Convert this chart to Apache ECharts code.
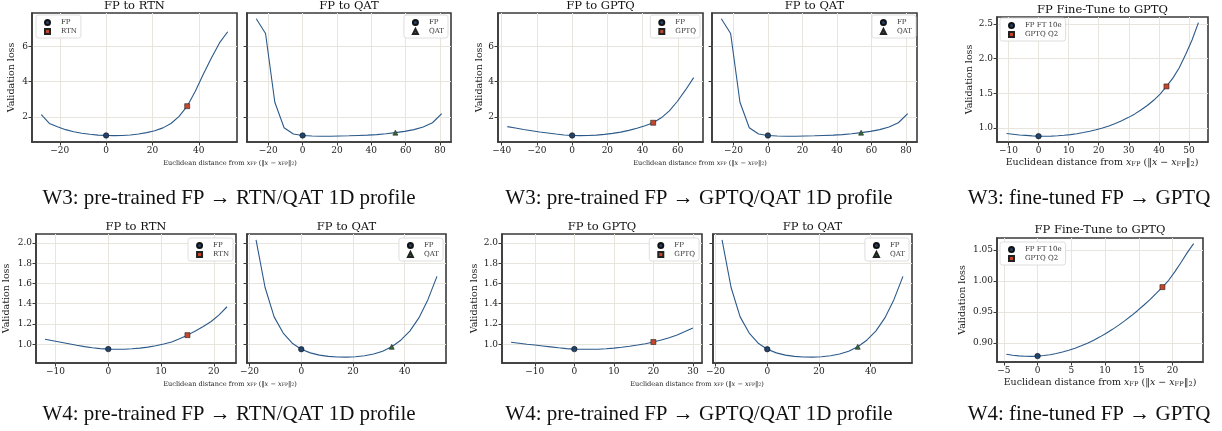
<!DOCTYPE html>
<html>
<head>
<meta charset="utf-8">
<script src="https://cdn.jsdelivr.net/npm/echarts@6/dist/echarts.min.js"></script>
<style>
  html, body { margin: 0; padding: 0; background: #fff; }
  #chart { width: 1222px; height: 431px; }
</style>
</head>
<body>
<div id="chart"></div>
<script>
// ---- data ----
// W3, pre-trained FP -> RTN
const w3RtnDist = [-28, -24.5, -21, -17.5, -14, -10.5, -7, -3.5, 0, 3.5, 7, 10.5, 14, 17.5, 21, 24.5, 28, 31.5, 35, 38.5, 42, 45.5, 49, 52.5];
const w3RtnLoss = [2.12, 1.62, 1.43, 1.27, 1.15, 1.07, 1.01, 0.96, 0.94, 0.93, 0.94, 0.97, 1.02, 1.10, 1.21, 1.37, 1.62, 2.02, 2.60, 3.45, 4.42, 5.35, 6.20, 6.82];
const w3RtnFp = [0, 0.94];
const w3RtnQ = [35, 2.60];
// W3, pre-trained FP -> QAT
const w3QatDist = [-27, -21.6, -16.2, -10.8, -5.4, 0, 5.4, 10.8, 16.2, 21.6, 27, 32.4, 37.8, 43.2, 48.6, 54, 59.4, 64.8, 70.2, 75.6, 81];
const w3QatLoss = [7.55, 6.72, 2.82, 1.38, 1.02, 0.94, 0.91, 0.90, 0.90, 0.91, 0.92, 0.94, 0.96, 0.99, 1.04, 1.10, 1.17, 1.27, 1.42, 1.66, 2.18];
const w3QatFp = [0, 0.94];
const w3QatQ = [54, 1.10];
// W3, pre-trained FP -> GPTQ
const w3GptqDist = [-36.8, -32.2, -27.6, -23, -18.4, -13.8, -9.2, -4.6, 0, 4.6, 9.2, 13.8, 18.4, 23, 27.6, 32.2, 36.8, 41.4, 46, 50.6, 55.2, 59.8, 64.4, 69];
const w3GptqLoss = [1.44, 1.36, 1.28, 1.21, 1.14, 1.08, 1.02, 0.97, 0.94, 0.93, 0.94, 0.96, 1.00, 1.06, 1.13, 1.23, 1.35, 1.49, 1.66, 1.94, 2.33, 2.88, 3.52, 4.22];
const w3GptqFp = [0, 0.94];
const w3GptqQ = [46, 1.66];
// W3, fine-tuned FP -> GPTQ
const w3FtDist = [-10.625, -8.5, -6.375, -4.25, -2.125, 0, 2.125, 4.25, 6.375, 8.5, 10.625, 12.75, 14.875, 17, 19.125, 21.25, 23.375, 25.5, 27.625, 29.75, 31.875, 34, 36.125, 38.25, 40.375, 42.5, 44.625, 46.75, 48.875, 51, 53.125];
const w3FtLoss = [0.92, 0.91, 0.90, 0.893, 0.886, 0.882, 0.881, 0.883, 0.888, 0.895, 0.905, 0.918, 0.934, 0.953, 0.975, 1.00, 1.03, 1.065, 1.105, 1.15, 1.20, 1.26, 1.325, 1.40, 1.49, 1.60, 1.72, 1.87, 2.06, 2.27, 2.52];
const w3FtFp = [0, 0.882];
const w3FtQ = [42.5, 1.60];
// W4, pre-trained FP -> RTN
const w4RtnDist = [-12, -10.5, -9, -7.5, -6, -4.5, -3, -1.5, 0, 1.5, 3, 4.5, 6, 7.5, 9, 10.5, 12, 13.5, 15, 16.5, 18, 19.5, 21, 22.5];
const w4RtnLoss = [1.05, 1.035, 1.02, 1.005, 0.99, 0.977, 0.966, 0.957, 0.952, 0.950, 0.951, 0.955, 0.962, 0.972, 0.985, 1.002, 1.023, 1.054, 1.09, 1.13, 1.175, 1.225, 1.29, 1.37];
const w4RtnFp = [0, 0.952];
const w4RtnQ = [15, 1.09];
// W4, pre-trained FP -> QAT
const w4QatDist = [-17.5, -14, -10.5, -7, -3.5, 0, 3.5, 7, 10.5, 14, 17.5, 21, 24.5, 28, 31.5, 35, 38.5, 42, 45.5, 49, 52.5];
const w4QatLoss = [2.03, 1.56, 1.27, 1.11, 1.01, 0.951, 0.915, 0.893, 0.880, 0.874, 0.873, 0.877, 0.886, 0.903, 0.930, 0.975, 1.04, 1.13, 1.26, 1.44, 1.67];
const w4QatFp = [0, 0.951];
const w4QatQ = [35, 0.975];
// W4, pre-trained FP -> GPTQ
const w4GptqDist = [-16, -14, -12, -10, -8, -6, -4, -2, 0, 2, 4, 6, 8, 10, 12, 14, 16, 18, 20, 22, 24, 26, 28, 30];
const w4GptqLoss = [1.02, 1.01, 1.0, 0.992, 0.983, 0.974, 0.965, 0.957, 0.952, 0.950, 0.950, 0.951, 0.955, 0.962, 0.970, 0.980, 0.992, 1.005, 1.022, 1.042, 1.065, 1.092, 1.125, 1.16];
const w4GptqFp = [0, 0.952];
const w4GptqQ = [20, 1.022];
// W4, fine-tuned FP -> GPTQ
const w4FtDist = [-4.625, -3.7, -2.775, -1.85, -0.925, 0, 0.925, 1.85, 2.775, 3.7, 4.625, 5.55, 6.475, 7.4, 8.325, 9.25, 10.175, 11.1, 12.025, 12.95, 13.875, 14.8, 15.725, 16.65, 17.575, 18.5, 19.425, 20.35, 21.275, 22.2, 23.125];
const w4FtLoss = [0.8819, 0.8803, 0.8792, 0.8786, 0.8785, 0.8789, 0.8798, 0.8812, 0.8830, 0.8854, 0.8882, 0.8916, 0.8954, 0.8997, 0.9046, 0.9099, 0.9157, 0.9220, 0.9288, 0.9360, 0.9438, 0.9520, 0.9608, 0.9700, 0.9798, 0.9900, 1.0010, 1.0150, 1.0300, 1.0460, 1.0600];
const w4FtFp = [0, 0.8789];
const w4FtQ = [18.5, 0.990];

// tick labels
const w3RtnTicks = [-20, 0, 20, 40];
const w3QatTicks = [-20, 0, 20, 40, 60, 80];
const w3GptqTicks = [-40, -20, 0, 20, 40, 60];
const w3FtTicks = [-10, 0, 10, 20, 30, 40, 50];
const w4RtnTicks = [-10, 0, 10, 20];
const w4QatTicks = [-20, 0, 20, 40];
const w4GptqTicks = [-10, 0, 10, 20, 30];
const w4FtTicks = [-5, 0, 5, 10, 15, 20];
const w3LossTicks = [2, 4, 6];
const w3FtLossTicks = [1.0, 1.5, 2.0, 2.5];
const w4LossTicks = [1.0, 1.2, 1.4, 1.6, 1.8, 2.0];
const w4FtLossTicks = [0.90, 0.95, 1.00, 1.05];

// ---- styling ----
const SERIF = 'DejaVu Serif';
const lineColor = '#2b5a8a';
const fpColor = '#22446c';
const sqColor = '#c4472c';
const triColor = '#2f6e33';
const frameColor = '#3a3a3a';
const gridColor = '#e8e4de';
const textColor = '#222';

const fmt = (dec) => (v) => (v < 0 ? '\u2212' : '') + Math.abs(v).toFixed(dec);

const panels = [
  { box: [32, 13, 205, 129], xr: [-32.0, 56.5], yr: [0.57, 7.88], xt: w3RtnTicks, yt: w3LossTicks, yDec: 0, yName: 15,
    dist: w3RtnDist, loss: w3RtnLoss, fp: w3RtnFp, q: w3RtnQ, names: ['FP', 'RTN'], qSym: 'rect', qColor: sqColor,
    title: 'FP to RTN', titleY: 6, legend: { left: 36, top: 15 } },
  { box: [247, 13, 204, 129], xr: [-32.4, 86.4], yr: [0.57, 7.88], xt: w3QatTicks, yt: w3LossTicks, yDec: 0, yName: 0,
    dist: w3QatDist, loss: w3QatLoss, fp: w3QatFp, q: w3QatQ, names: ['FP', 'QAT'], qSym: 'triangle', qColor: triColor,
    title: 'FP to QAT', titleY: 6, legend: { right: 774, top: 15 } },
  { box: [498, 13, 205, 129], xr: [-42.1, 74.3], yr: [0.57, 7.88], xt: w3GptqTicks, yt: w3LossTicks, yDec: 0, yName: 13,
    dist: w3GptqDist, loss: w3GptqLoss, fp: w3GptqFp, q: w3GptqQ, names: ['FP', 'GPTQ'], qSym: 'rect', qColor: sqColor,
    title: 'FP to GPTQ', titleY: 6, legend: { right: 522, top: 15 } },
  { box: [712, 13, 205, 129], xr: [-32.4, 86.4], yr: [0.57, 7.88], xt: w3QatTicks, yt: w3LossTicks, yDec: 0, yName: 0,
    dist: w3QatDist, loss: w3QatLoss, fp: w3QatFp, q: w3QatQ, names: ['FP', 'QAT'], qSym: 'triangle', qColor: triColor,
    title: 'FP to QAT', titleY: 6, legend: { right: 306, top: 15 } },
  { box: [997, 17, 211, 125], xr: [-13.8, 56.3], yr: [0.798, 2.602], xt: w3FtTicks, yt: w3FtLossTicks, yDec: 1, yName: 20,
    dist: w3FtDist, loss: w3FtLoss, fp: w3FtFp, q: w3FtQ, names: ['FP FT 10e', 'GPTQ Q2'], qSym: 'rect', qColor: sqColor,
    title: 'FP Fine-Tune to GPTQ', titleY: 10, legend: { left: 1000, top: 18 } },
  { box: [36, 234, 200, 129], xr: [-13.7, 24.2], yr: [0.815, 2.088], xt: w4RtnTicks, yt: w4LossTicks, yDec: 1, yName: 24,
    dist: w4RtnDist, loss: w4RtnLoss, fp: w4RtnFp, q: w4RtnQ, names: ['FP', 'RTN'], qSym: 'rect', qColor: sqColor,
    title: 'FP to RTN', titleY: 227, legend: { right: 989, top: 238 } },
  { box: [247, 234, 199, 129], xr: [-21, 56], yr: [0.815, 2.088], xt: w4QatTicks, yt: w4LossTicks, yDec: 1, yName: 0,
    dist: w4QatDist, loss: w4QatLoss, fp: w4QatFp, q: w4QatQ, names: ['FP', 'QAT'], qSym: 'triangle', qColor: triColor,
    title: 'FP to QAT', titleY: 227, legend: { right: 779, top: 238 } },
  { box: [502, 234, 200, 129], xr: [-18.3, 32.3], yr: [0.815, 2.088], xt: w4GptqTicks, yt: w4LossTicks, yDec: 1, yName: 22,
    dist: w4GptqDist, loss: w4GptqLoss, fp: w4GptqFp, q: w4GptqQ, names: ['FP', 'GPTQ'], qSym: 'rect', qColor: sqColor,
    title: 'FP to GPTQ', titleY: 227, legend: { right: 523, top: 238 } },
  { box: [713, 234, 199, 129], xr: [-21, 56], yr: [0.815, 2.088], xt: w4QatTicks, yt: w4LossTicks, yDec: 1, yName: 0,
    dist: w4QatDist, loss: w4QatLoss, fp: w4QatFp, q: w4QatQ, names: ['FP', 'QAT'], qSym: 'triangle', qColor: triColor,
    title: 'FP to QAT', titleY: 227, legend: { right: 313, top: 238 } },
  { box: [997, 238, 206, 124], xr: [-6.01, 24.51], yr: [0.8694, 1.0691], xt: w4FtTicks, yt: w4FtLossTicks, yDec: 2, yName: 29,
    dist: w4FtDist, loss: w4FtLoss, fp: w4FtFp, q: w4FtQ, names: ['FP FT 10e', 'GPTQ Q2'], qSym: 'rect', qColor: sqColor,
    title: 'FP Fine-Tune to GPTQ', titleY: 230, legend: { left: 1000, top: 242 } }
];

const grid = [], xAxis = [], yAxis = [], series = [], legend = [], graphic = [];

panels.forEach((p, i) => {
  const [l, t, w, h] = p.box;
  grid.push({ left: l, top: t, width: w, height: h, show: true, borderColor: frameColor, borderWidth: 1.6,
    backgroundColor: 'transparent', outerBoundsMode: 'none' });

  xAxis.push({
    type: 'value', gridIndex: i, min: p.xr[0], max: p.xr[1],
    axisLine: { show: true, onZero: false, lineStyle: { color: frameColor, width: 1.6 } },
    axisTick: { show: true, length: 3.5, customValues: p.xt, lineStyle: { color: frameColor, width: 1 } },
    axisLabel: { customValues: p.xt, formatter: fmt(0), fontFamily: SERIF, fontSize: 9, color: textColor, margin: 4 },
    splitLine: { show: true, lineStyle: { color: gridColor, width: 1 } }
  });

  yAxis.push({
    type: 'value', gridIndex: i, min: p.yr[0], max: p.yr[1],
    name: p.yName ? 'Validation loss' : '', nameLocation: 'middle', nameGap: p.yName,
    nameTextStyle: { fontFamily: SERIF, fontSize: 9.5, color: textColor },
    axisLine: { show: true, onZero: false, lineStyle: { color: frameColor, width: 1.6 } },
    axisTick: { show: true, length: 3.5, customValues: p.yt, lineStyle: { color: frameColor, width: 1 } },
    axisLabel: { show: !!p.yName, customValues: p.yt, formatter: fmt(p.yDec), fontFamily: SERIF, fontSize: 9, color: textColor, margin: 4 },
    splitLine: { show: true, lineStyle: { color: gridColor, width: 1 } }
  });

  series.push({
    type: 'line', xAxisIndex: i, yAxisIndex: i, silent: true, z: 2,
    data: p.dist.map((d, k) => [d, p.loss[k]]),
    symbol: 'none', showSymbol: false,
    lineStyle: { color: lineColor, width: 1.1 }, itemStyle: { color: lineColor }
  });
  series.push({
    type: 'scatter', name: p.names[0], xAxisIndex: i, yAxisIndex: i, z: 4,
    data: [p.fp], symbol: 'circle', symbolSize: 5.5,
    itemStyle: { color: fpColor, borderColor: '#111', borderWidth: 0.6, opacity: 1 }
  });
  series.push({
    type: 'scatter', name: p.names[1], xAxisIndex: i, yAxisIndex: i, z: 4,
    data: [p.q], symbol: p.qSym, symbolSize: 5,
    itemStyle: { color: p.qColor, borderColor: '#222', borderWidth: 0.6, opacity: 1 }
  });

  legend.push(Object.assign({
    data: p.names, orient: 'vertical', itemWidth: 5, itemHeight: 5, itemGap: 2,
    padding: [4, 4, 3, 8], backgroundColor: '#fff', borderColor: '#d6d6d6', borderWidth: 0.8, borderRadius: 2.5,
    selectedMode: false,
    textStyle: { fontFamily: SERIF, fontSize: 7, color: '#333', padding: [0, 0, 0, 6] }
  }, p.legend));

  graphic.push({
    type: 'text', x: l + w / 2, y: p.titleY, silent: true,
    style: { text: p.title, fontFamily: SERIF, fontSize: 11.5, fill: '#111', align: 'center', verticalAlign: 'middle' }
  });
});

// x-axis labels
const xLabelText = 'Euclidean distance from {i|x}{s|FP} (\u2016{i|x} \u2212 {i|x}{s|FP}\u2016{s|2})';
const xLabels = [[230, 163, 6.6], [700, 163, 6.6], [230, 384, 6.6], [697, 384, 6.6], [1102, 163, 9.5], [1100, 383, 9.5]];
xLabels.forEach(([x, y, fs]) => {
  graphic.push({
    type: 'text', x: x, y: y, silent: true,
    style: {
      text: xLabelText, fontFamily: SERIF, fontSize: fs, fill: textColor, align: 'center', verticalAlign: 'middle',
      rich: {
        i: { fontFamily: SERIF, fontSize: fs, fontStyle: 'italic', fill: textColor },
        s: { fontFamily: SERIF, fontSize: fs * 0.7, fill: textColor, verticalAlign: 'bottom' }
      }
    }
  });
});

// sub-figure captions
const captions = [
  [229, 198, 'W3: pre-trained FP \u2192 RTN/QAT 1D profile'],
  [699, 198, 'W3: pre-trained FP \u2192 GPTQ/QAT 1D profile'],
  [1089, 198, 'W3: fine-tuned FP \u2192 GPTQ'],
  [229, 414, 'W4: pre-trained FP \u2192 RTN/QAT 1D profile'],
  [699, 414, 'W4: pre-trained FP \u2192 GPTQ/QAT 1D profile'],
  [1089, 414, 'W4: fine-tuned FP \u2192 GPTQ']
];
captions.forEach(([x, y, txt]) => {
  graphic.push({
    type: 'text', x: x, y: y, silent: true,
    style: { text: txt, fontFamily: 'Liberation Serif', fontSize: 21, fill: '#111', align: 'center', verticalAlign: 'middle' }
  });
});

const chart = echarts.init(document.getElementById('chart'));
chart.setOption({
  animation: false,
  backgroundColor: '#fff',
  grid: grid,
  xAxis: xAxis,
  yAxis: yAxis,
  legend: legend,
  series: series,
  graphic: graphic
});
</script>
</body>
</html>
